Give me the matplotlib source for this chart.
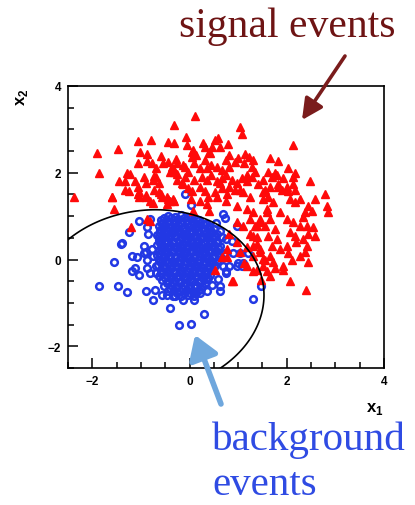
import numpy as np
import matplotlib
matplotlib.use("Agg")
import matplotlib.pyplot as plt
from matplotlib.ticker import MultipleLocator
from matplotlib.patches import FancyArrowPatch

plt.rcParams['font.family'] = ['Liberation Sans', 'DejaVu Sans']
plt.rcParams['mathtext.fontset'] = 'custom'
plt.rcParams['mathtext.bf'] = 'Liberation Sans:bold'
plt.rcParams['mathtext.rm'] = 'Liberation Sans'

# signal events (red triangles), (x1, x2)
sig_xy = [
    (-0.31, 3.11), (-1.07, 2.73), (-0.80, 2.75), (-0.45, 2.70), (-0.31, 2.68),
    (-1.90, 2.45), (-1.48, 2.55), (-1.01, 2.48), (-0.87, 2.43), (-0.58, 2.39),
    (-0.27, 2.32), (-1.05, 2.23), (-0.87, 2.27), (-0.78, 2.23), (-0.54, 2.23),
    (-0.68, 2.11), (-1.86, 2.00), (-1.28, 2.00), (-1.22, 1.98), (-0.93, 1.91),
    (-0.74, 1.93), (-0.41, 2.02), (-0.31, 2.02), (-0.25, 1.98), (-1.46, 1.80),
    (-1.32, 1.80), (-1.13, 1.82), (-0.89, 1.77), (-1.05, 1.68), (-1.24, 1.59),
    (-0.74, 1.61), (-1.05, 1.52), (-0.89, 1.48), (-0.58, 1.50), (-0.47, 1.45),
    (-2.37, 1.43), (-1.59, 1.45), (-1.55, 1.16), (-1.32, 1.61), (-1.03, 1.55),
    (-0.62, 1.55), (-0.56, 1.45), (-0.35, 1.39), (-0.82, 1.34), (-0.76, 1.30),
    (-0.76, 1.84), (-0.68, 1.91), (-0.62, 1.77), (-0.45, 2.25), (-0.37, 2.14),
    (-0.25, 2.23), (-0.14, 2.18), (-0.06, 2.64), (0.06, 2.48), (0.14, 2.41),
    (0.27, 2.68), (0.31, 2.30), (0.41, 2.48), (0.52, 2.75), (0.62, 2.59),
    (0.76, 2.30), (0.82, 2.14), (1.03, 3.05), (0.12, 3.32), (1.07, 2.89),
    (-0.08, 2.82), (0.31, 2.59), (0.58, 2.80), (0.80, 2.66), (0.08, 2.52),
    (0.06, 2.36), (0.47, 2.59), (0.43, 2.45), (0.82, 2.41), (0.99, 2.34),
    (1.15, 2.43), (1.22, 2.36), (1.30, 2.30), (1.65, 2.34), (1.81, 2.27),
    (2.12, 2.64), (-0.31, 2.07), (-0.10, 2.14), (-0.04, 2.02), (-0.10, 1.91),
    (0.10, 2.23), (0.21, 2.11), (0.35, 2.11), (0.45, 2.18), (0.56, 2.14),
    (0.66, 2.07), (0.93, 2.25), (1.13, 2.23), (1.28, 2.14), (1.34, 2.02),
    (1.18, 1.95), (1.61, 2.02), (1.75, 2.00), (1.69, 1.91), (2.02, 2.11),
    (2.12, 1.91), (0.10, 1.84), (0.25, 1.91), (0.35, 1.84), (0.45, 1.95),
    (0.56, 1.80), (0.66, 1.89), (0.76, 1.95), (0.87, 1.84), (0.97, 1.77),
    (1.07, 1.89), (1.18, 1.80), (1.28, 1.91), (1.40, 1.73), (1.55, 1.61),
    (1.81, 1.73), (1.90, 1.61), (2.02, 1.57), (2.12, 1.73), (-0.25, 1.84),
    (-0.14, 1.73), (-0.04, 1.66), (0.06, 1.57), (0.21, 1.68), (0.31, 1.57),
    (0.37, 1.45), (0.52, 1.55), (0.66, 1.66), (0.78, 1.50), (0.93, 1.61),
    (1.09, 1.55), (1.24, 1.45), (2.16, 2.00), (2.47, 1.80), (1.79, 1.95),
    (1.92, 1.89), (1.81, 1.68), (2.00, 1.68), (2.16, 1.61), (2.58, 1.39),
    (2.78, 1.50), (2.82, 1.23), (2.85, 1.09), (2.43, 1.23), (2.52, 1.11),
    (2.37, 1.09), (2.33, 0.98), (2.06, 1.39), (2.16, 1.32), (2.27, 1.39),
    (1.51, 1.84), (1.65, 1.68), (1.51, 1.55), (1.61, 1.43), (1.71, 1.32),
    (1.86, 1.09), (2.00, 0.93), (2.12, 0.86), (2.27, 0.77), (2.41, 0.77),
    (2.54, 0.75), (2.58, 0.55), (2.06, 0.64), (2.16, 0.55), (2.20, 0.41),
    (2.33, 0.48), (2.43, 0.59), (2.41, 0.32), (2.37, 0.18), (2.27, 0.09),
    (2.43, -0.05), (1.59, 1.09), (1.65, 0.93), (1.55, 0.77), (1.75, 0.70),
    (1.61, 0.55), (1.79, 0.48), (1.69, 0.32), (1.86, 0.25), (2.00, 0.32),
    (2.02, 0.14), (2.10, -0.02), (1.92, -0.14), (1.71, -0.05), (1.55, -0.02),
    (1.44, 0.18), (1.38, 0.36), (1.30, 0.55), (1.34, 0.77), (1.44, 0.86),
    (1.03, 0.18), (1.18, 0.30), (1.30, 0.09), (1.13, -0.09), (1.38, -0.25),
    (1.59, -0.27), (1.75, -0.20), (1.92, -0.25), (1.51, -0.16), (1.65, -0.39),
    (1.48, -0.48), (2.06, -0.50), (2.39, -0.70), (0.87, -0.50), (1.30, -0.27),
    (1.18, -0.14), (0.52, -0.25), (0.78, 0.07), (-0.16, 1.77), (0.04, 1.39),
    (0.21, 1.34), (0.35, 1.27), (0.41, 1.11), (0.56, 1.43), (0.76, 1.34),
    (0.97, 1.23), (1.18, 1.16), (1.30, 1.09), (1.44, 0.93), (1.59, 1.16),
    (1.51, 1.39), (1.03, 1.61), (0.82, 1.68), (0.62, 1.77), (-0.45, 1.39),
    (-0.31, 1.34), (-0.47, 1.27), (0.08, 1.12), (0.82, 0.59), (0.97, 0.41),
    (0.78, 0.25), (0.66, 0.07), (1.24, 0.59), (1.38, 0.52), (1.30, 0.32),
    (1.44, 0.25), (1.51, 0.02), (1.65, 0.09), (1.09, 0.77), (1.38, 0.77),
    (1.24, 0.93), (0.97, 0.86), (-1.20, 0.75), (-0.87, 0.93), (-0.82, 0.89),
    (-1.59, 1.43), (-1.03, 1.43), (-0.89, 1.45), (-0.41, 1.34), (0.89, -0.50),
]

# background events (blue open circles), sparse outer ones
bkg_outer_xy = [
    (-1.03, 0.89), (-0.87, 0.75), (-0.85, 0.59), (-1.24, 0.64), (-1.40, 0.36),
    (-0.93, 0.32), (-0.78, 0.25), (-0.62, 0.55), (-0.58, 0.41), (-0.52, 0.66),
    (-0.56, 0.82), (-1.18, 0.09), (-1.09, 0.07), (-1.13, -0.20), (-1.03, -0.36),
    (-0.87, -0.20), (-0.68, -0.32), (-0.58, -0.32), (-1.55, -0.05), (-1.86, -0.61),
    (-1.48, -0.61), (-1.28, -0.75), (-0.89, -0.73), (-0.72, -0.70), (-0.76, -0.93),
    (-0.93, 0.14), (-0.87, -0.02), (-0.76, 0.09), (-0.62, -0.02), (-0.68, -0.14),
    (-0.82, -0.32), (-1.38, 0.39), (-0.89, 0.18), (-1.18, -0.27), (-0.56, -0.82),
    (-0.41, -1.11), (-0.21, -1.50), (0.02, -1.48), (0.29, -1.25), (-0.14, -0.93),
    (0.10, -0.93), (-0.47, -0.82), (-0.35, -0.84), (0.35, -0.73), (0.62, -0.73),
    (0.62, -0.61), (0.76, -0.32), (0.47, -0.59), (0.21, -0.77), (1.30, -0.91),
    (1.46, -0.60), (-0.10, 1.50), (0.68, 1.05), (0.97, 0.77), (0.66, 0.52),
    (0.76, 0.48), (0.87, 0.43), (0.72, 0.14), (0.89, 0.14), (1.03, 0.14),
    (1.20, 0.14), (1.09, -0.09), (0.99, -0.09), (0.82, -0.14), (0.04, 1.25),
    (0.68, -0.14), (0.97, -0.14), (1.07, -0.14), (0.76, -0.27), (0.58, -0.45),
    (-0.82, 0.93), (0.62, 0.66), (0.72, 0.95), (0.55, 0.85),
]

# background events, dense core around the origin
bkg_core_xy = [
    (-0.45, 1.01), (-0.30, 0.98), (-0.17, 1.02), (-0.04, 0.99),
    (-0.58, 0.90), (-0.44, 0.88), (-0.31, 0.91), (-0.19, 0.87), (-0.06, 0.90), (0.08, 0.89), (0.20, 0.92),
    (-0.63, 0.78), (-0.50, 0.80), (-0.37, 0.77), (-0.24, 0.79), (-0.12, 0.76), (0.02, 0.80), (0.15, 0.78),
    (0.28, 0.81), (0.40, 0.77),
    (-0.60, 0.67), (-0.47, 0.65), (-0.33, 0.68), (-0.21, 0.66), (-0.08, 0.69), (0.05, 0.65), (0.18, 0.67),
    (0.31, 0.69), (0.44, 0.66),
    (-0.66, 0.56), (-0.53, 0.54), (-0.40, 0.57), (-0.27, 0.55), (-0.14, 0.58), (-0.01, 0.54), (0.12, 0.56),
    (0.25, 0.53), (0.38, 0.57), (0.51, 0.55),
    (-0.62, 0.44), (-0.48, 0.46), (-0.35, 0.43), (-0.22, 0.45), (-0.09, 0.42), (0.04, 0.46), (0.17, 0.44),
    (0.30, 0.41), (0.43, 0.45), (0.56, 0.43),
    (-0.67, 0.33), (-0.54, 0.31), (-0.41, 0.34), (-0.28, 0.32), (-0.15, 0.35), (-0.02, 0.31), (0.11, 0.33),
    (0.24, 0.36), (0.37, 0.32), (0.50, 0.34), (0.62, 0.31),
    (-0.63, 0.21), (-0.50, 0.23), (-0.37, 0.20), (-0.24, 0.22), (-0.11, 0.19), (0.02, 0.23), (0.15, 0.21),
    (0.28, 0.19), (0.41, 0.22), (0.54, 0.20),
    (-0.66, 0.10), (-0.53, 0.08), (-0.40, 0.11), (-0.27, 0.09), (-0.14, 0.12), (-0.01, 0.08), (0.12, 0.10),
    (0.25, 0.12), (0.38, 0.09), (0.51, 0.11), (0.63, 0.08),
    (-0.61, -0.02), (-0.48, 0.00), (-0.35, -0.03), (-0.22, -0.01), (-0.09, -0.04), (0.04, 0.00), (0.17, -0.02),
    (0.30, -0.04), (0.43, -0.01), (0.56, -0.03),
    (-0.64, -0.13), (-0.51, -0.15), (-0.38, -0.12), (-0.25, -0.14), (-0.12, -0.11), (0.01, -0.15), (0.14, -0.13),
    (0.27, -0.11), (0.40, -0.14), (0.53, -0.12),
    (-0.58, -0.25), (-0.45, -0.23), (-0.32, -0.26), (-0.19, -0.24), (-0.06, -0.27), (0.07, -0.23), (0.20, -0.25),
    (0.33, -0.27), (0.46, -0.24),
    (-0.62, -0.37), (-0.49, -0.35), (-0.36, -0.38), (-0.23, -0.36), (-0.10, -0.39), (0.03, -0.35), (0.16, -0.37),
    (0.29, -0.39), (0.42, -0.36),
    (-0.57, -0.48), (-0.44, -0.50), (-0.31, -0.47), (-0.18, -0.49), (-0.05, -0.46), (0.08, -0.50), (0.21, -0.48),
    (0.34, -0.46),
    (-0.52, -0.60), (-0.39, -0.58), (-0.26, -0.61), (-0.13, -0.59), (0.00, -0.62), (0.13, -0.58), (0.26, -0.60),
    (-0.45, -0.72), (-0.32, -0.70), (-0.19, -0.73), (-0.06, -0.71), (0.07, -0.74), (0.19, -0.70),
    (-0.30, -0.83), (-0.17, -0.85), (-0.04, -0.82), (0.09, -0.84),
    # second, staggered layer of the core
    (-0.52, 0.95), (-0.38, 0.96), (-0.24, 0.94), (-0.11, 0.95), (0.02, 0.96), (0.14, 0.94),
    (-0.57, 0.84), (-0.43, 0.83), (-0.30, 0.85), (-0.18, 0.84), (-0.05, 0.82), (0.09, 0.85), (0.22, 0.84),
    (0.34, 0.83),
    (-0.55, 0.72), (-0.41, 0.73), (-0.27, 0.71), (-0.14, 0.72), (-0.02, 0.74), (0.12, 0.71), (0.25, 0.73),
    (0.37, 0.72), (0.50, 0.71),
    (-0.60, 0.61), (-0.46, 0.60), (-0.34, 0.62), (-0.20, 0.61), (-0.07, 0.60), (0.06, 0.62), (0.19, 0.61),
    (0.32, 0.59), (0.45, 0.61), (0.57, 0.60),
    (-0.56, 0.50), (-0.42, 0.49), (-0.29, 0.51), (-0.16, 0.50), (-0.03, 0.48), (0.10, 0.51), (0.23, 0.49),
    (0.36, 0.50), (0.49, 0.50),
    (-0.60, 0.38), (-0.47, 0.39), (-0.34, 0.37), (-0.21, 0.38), (-0.08, 0.40), (0.05, 0.37), (0.18, 0.39),
    (0.31, 0.38), (0.44, 0.37), (0.57, 0.39),
    (-0.57, 0.27), (-0.44, 0.26), (-0.31, 0.28), (-0.18, 0.27), (-0.05, 0.25), (0.08, 0.28), (0.21, 0.27),
    (0.34, 0.26), (0.47, 0.28), (0.59, 0.27),
    (-0.60, 0.16), (-0.46, 0.15), (-0.33, 0.17), (-0.20, 0.16), (-0.07, 0.14), (0.06, 0.17), (0.19, 0.15),
    (0.32, 0.16), (0.45, 0.17), (0.58, 0.15),
    (-0.55, 0.04), (-0.42, 0.05), (-0.29, 0.03), (-0.16, 0.04), (-0.03, 0.06), (0.10, 0.03), (0.23, 0.05),
    (0.36, 0.04), (0.49, 0.03), (0.61, 0.05),
    (-0.58, -0.08), (-0.45, -0.07), (-0.32, -0.09), (-0.19, -0.08), (-0.06, -0.06), (0.07, -0.09),
    (0.20, -0.07), (0.33, -0.08), (0.46, -0.07),
    (-0.52, -0.19), (-0.39, -0.20), (-0.26, -0.18), (-0.13, -0.19), (0.00, -0.21), (0.13, -0.18),
    (0.26, -0.20), (0.39, -0.19), (0.51, -0.18),
    (-0.56, -0.31), (-0.43, -0.30), (-0.30, -0.32), (-0.17, -0.31), (-0.04, -0.29), (0.09, -0.32),
    (0.22, -0.30), (0.35, -0.31),
    (-0.51, -0.42), (-0.38, -0.43), (-0.25, -0.41), (-0.12, -0.42), (0.01, -0.44), (0.14, -0.41),
    (0.27, -0.43), (0.38, -0.42),
    (-0.46, -0.54), (-0.33, -0.53), (-0.20, -0.55), (-0.07, -0.54), (0.06, -0.52), (0.19, -0.55), (0.31, -0.53),
    (-0.40, -0.66), (-0.27, -0.65), (-0.14, -0.67), (-0.01, -0.66), (0.12, -0.64), (0.24, -0.67),
    (-0.25, -0.77), (-0.12, -0.78), (0.01, -0.76), (0.13, -0.77),
]

# points on the decision boundary
bnd_x = [-2.50, -2.00, -1.30, -0.62, 0.06, 0.41, 0.76, 1.07, 1.28, 1.44, 1.51, 1.51, 1.44, 1.28,
         1.15, 1.03, 0.85, 0.72]
bnd_y = [0.47, 0.82, 1.05, 1.11, 1.09, 0.93, 0.70, 0.36, 0.02, -0.36, -0.62, -1.05, -1.41, -1.80,
         -1.97, -2.12, -2.30, -2.45]

sx, sy = np.array(sig_xy).T
bx, by = np.array(bkg_outer_xy + bkg_core_xy).T

W, H = 415, 506
fig = plt.figure(figsize=(W / 100, H / 100), dpi=100)
ax = fig.add_axes([68 / W, 1 - 369 / H, (384 - 68) / W, (369 - 87) / H])

ax.plot(bx, by, 'o', ms=4.8, mfc='none', mec='#2238e4', mew=1.8, ls='none')
ax.plot(sx, sy, '^', ms=5.3, color='#ff0a0a', mec='#ff0a0a', ls='none')

# weighted conic fit through the boundary points (lower arc counts more),
# drawn as the zero level of the conic
px, py = np.array(bnd_x), np.array(bnd_y)
wt = np.where(py < -1.5, 4.0, 1.0)
M = np.column_stack([px**2, px * py, py**2, px, py, np.ones_like(px)]) * wt[:, None]
coef = np.linalg.svd(M)[2][-1]
gx, gy = np.meshgrid(np.linspace(-2.6, 4.1, 700), np.linspace(-2.6, 4.1, 700))
G = (coef[0] * gx**2 + coef[1] * gx * gy + coef[2] * gy**2
     + coef[3] * gx + coef[4] * gy + coef[5])
ax.contour(gx, gy, G, levels=[0], colors='black', linewidths=1.2)

ax.set_xlim(-2.5, 4)
ax.set_ylim(-2.5, 4)
ax.xaxis.set_major_locator(MultipleLocator(2))
ax.yaxis.set_major_locator(MultipleLocator(2))
ax.xaxis.set_minor_locator(MultipleLocator(0.5))
ax.yaxis.set_minor_locator(MultipleLocator(0.5))
ax.tick_params(which='both', direction='in', top=False, right=False, width=1.1)
ax.tick_params(which='major', length=7, pad=5, labelsize=8.5)
ax.tick_params(which='minor', length=4)
for lab in ax.get_xticklabels() + ax.get_yticklabels():
    lab.set_fontweight('bold')
for sp in ax.spines.values():
    sp.set_linewidth(1.2)

fig.text(366 / W, 1 - 412 / H, r'$\mathbf{x}_\mathbf{1}$', fontsize=12, ha='left', va='baseline')
fig.text(22 / W, 1 - 97 / H, r'$\mathbf{x}_\mathbf{2}$', fontsize=12, ha='center', va='center', rotation=90)

serif = ['Liberation Serif', 'DejaVu Serif']
fig.text(179 / W, 1 - 37 / H, 'signal events', fontsize=30, family=serif, color='#6e1414',
         ha='left', va='baseline')
fig.text(212 / W, 1 - 450 / H, 'background', fontsize=29.5, family=serif, color='#2f4be3',
         ha='left', va='baseline')
fig.text(212 / W, 1 - 495 / H, 'events', fontsize=29.5, family=serif, color='#2f4be3',
         ha='left', va='baseline')

fig.add_artist(FancyArrowPatch((345 / W, 1 - 57 / H), (302 / W, 1 - 121 / H),
                               transform=fig.transFigure, arrowstyle='-|>,head_length=0.7,head_width=0.35',
                               mutation_scale=18, lw=2.6, color='#7a1c1c', shrinkA=0, shrinkB=0))
fig.add_artist(FancyArrowPatch((221 / W, 1 - 405 / H), (195 / W, 1 - 336 / H),
                               transform=fig.transFigure, arrowstyle='-|>,head_length=0.7,head_width=0.45',
                               mutation_scale=20, lw=4.0, color='#6fa7dd', shrinkA=0, shrinkB=0))

fig.savefig('out.png', dpi=100)
